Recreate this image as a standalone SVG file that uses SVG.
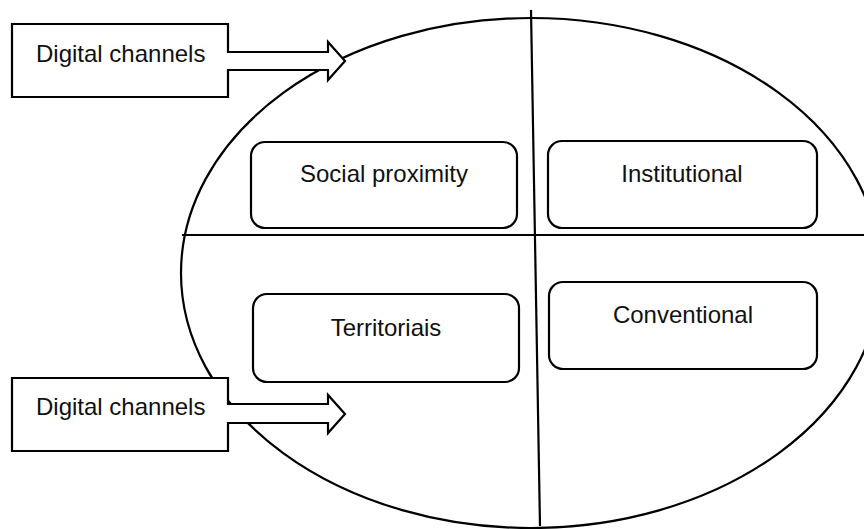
<svg xmlns="http://www.w3.org/2000/svg" width="864" height="529" viewBox="0 0 864 529">
<style>
.ln{fill:none;stroke:#000;stroke-width:2.2}
.box{fill:#fff;stroke:#000;stroke-width:2.2}
.call{fill:#fff;stroke:#000;stroke-width:2.2;stroke-linejoin:miter}
.t{font-family:"Liberation Sans",Arial,sans-serif;font-size:24px;fill:#111;text-anchor:middle}
.tl{font-family:"Liberation Sans",Arial,sans-serif;font-size:24px;fill:#111}
</style>
<rect width="864" height="529" fill="#fff"/>
<g id="frame">
<ellipse class="ln" cx="531" cy="273" rx="350" ry="255"/>
</g>
<g id="connectors">
<line class="ln" x1="182" y1="235" x2="864" y2="235"/>
<line class="ln" x1="531" y1="10" x2="540" y2="526"/>
</g>
<g id="social">
<rect class="box" x="251" y="142" width="266" height="86" rx="14"/>
<text class="t" x="384" y="182">Social proximity</text>
</g>
<g id="institutional">
<rect class="box" x="548" y="141" width="269" height="87" rx="14"/>
<text class="t" x="682" y="182">Institutional</text>
</g>
<g id="territoriais">
<rect class="box" x="253" y="294" width="266" height="88" rx="14"/>
<text class="t" x="386" y="336">Territoriais</text>
</g>
<g id="conventional">
<rect class="box" x="549" y="282" width="268" height="87" rx="14"/>
<text class="t" x="683" y="323">Conventional</text>
</g>
<g id="digital-top">
<path class="call" d="M12,24 H228 V52 H328 V42 L345,61 L328,80 V70 H228 V97 H12 Z"/>
<text class="tl" x="36" y="62">Digital channels</text>
</g>
<g id="digital-bottom">
<path class="call" d="M12,378 H228 V404 H328 V395 L345,414 L328,433 V423 H228 V451 H12 Z"/>
<text class="tl" x="36" y="415">Digital channels</text>
</g>
</svg>
